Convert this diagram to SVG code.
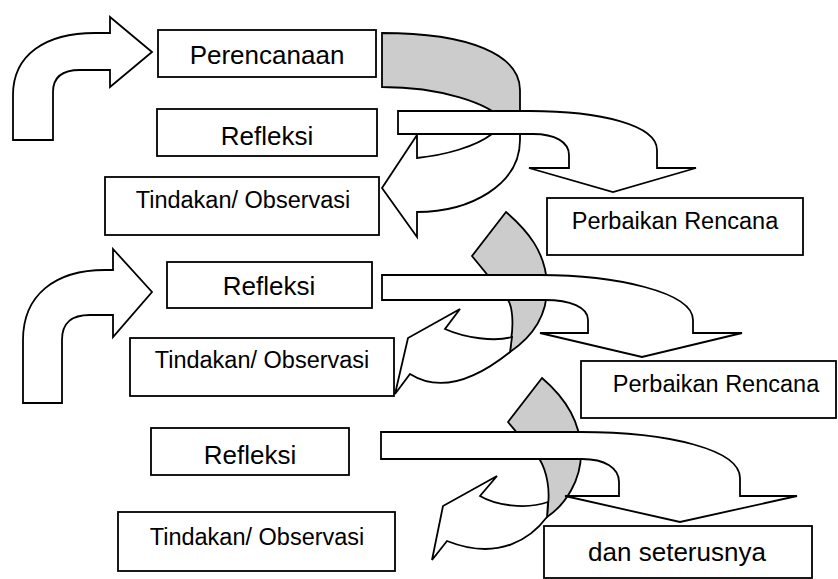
<svg xmlns="http://www.w3.org/2000/svg" width="838" height="579" viewBox="0 0 838 579">
<style>
.box{fill:#fff;stroke:#000;stroke-width:1.8}
.arw{fill:#fff;stroke:#000;stroke-width:1.8;stroke-linejoin:miter}
.back{fill:#cccccc;stroke:#000;stroke-width:1.8}
text{font-family:"Liberation Sans",Arial,sans-serif;fill:#000;text-anchor:middle}
.big{font-size:26px}
.small{font-size:23.5px}
</style>
<rect width="838" height="579" fill="#fff"/>
<g id="connectors">
  <path class="arw" d="M13,140 L13,95 C13,55 45,33 95,33 L110,33 L110,17 L152,52 L110,87 L110,70 L80,70 C62,70 53,78 53,92 L53,140 Z"/>
  <path class="arw" d="M23,403 L23,340 C23,295 55,270 105,270 L113,270 L113,249 L152,292 L113,337 L113,315 L90,315 C72,315 62,322 62,340 L62,403 Z"/>
  <path class="back" d="M382,33 C470,33 520,55 520,90 L520,125 L505,122 C490,103 440,87 382,87 Z"/>
  <path class="arw" d="M492,134 L505,120 L520,120 L520,140 C520,185 470,212 417,212 L417,237 L382,188 L417,135 L417,158 C445,155 475,147 492,134 Z"/>
  <path class="arw" d="M398,111 L530,111 C600,111 657,125 657,150 L657,168 L696,168 L613,192 L529,168 L569,168 L569,155 C569,142 555,134 533,134 L398,134 Z"/>
  <path class="back" d="M506,212 C527,230 546,252 547,285 C548,315 532,337 510,352 L511,340 C514,322 512,306 508,300 L472,256 Z"/>
  <path class="arw" d="M445,329 C465,338 495,342 512,337 L510,352 C490,368 448,398 410,374 L395,394 L408,338 L460,309 Z"/>
  <path class="arw" d="M382,275 L540,275 C615,275 693,292 693,320 L693,333 L742,333 L642,357 L540,333 L588,333 L588,320 C588,307 570,300 545,300 L382,300 Z"/>
  <path class="back" d="M542,378 C562,395 580,418 581,450 C582,480 565,505 547,517 L548,505 C550,490 547,472 540,460 L508,422 Z"/>
  <path class="arw" d="M480,496 C495,505 525,510 548,502 L547,517 C532,537 500,562 447,541 L432,560 L443,506 L497,476 Z"/>
  <path class="arw" d="M381,432 L580,432 C670,432 740,450 740,478 L740,496 L797,496 L680,522 L565,496 L619,496 L619,482 C619,468 605,459 582,459 L381,459 Z"/>
</g>
<g id="perencanaan"><rect class="box" x="158" y="30" width="218" height="47"/><text class="big" x="267" y="64">Perencanaan</text></g>
<g id="refleksi1"><rect class="box" x="157" y="109" width="220" height="47"/><text class="big" x="267" y="145">Refleksi</text></g>
<g id="tindakan1"><rect class="box" x="105" y="177" width="274" height="58"/><text class="small" x="243" y="208">Tindakan/ Observasi</text></g>
<g id="perbaikan1"><rect class="box" x="547" y="198" width="256" height="57"/><text class="small" x="675" y="229">Perbaikan Rencana</text></g>
<g id="refleksi2"><rect class="box" x="167" y="262" width="205" height="46"/><text class="big" x="269" y="295">Refleksi</text></g>
<g id="tindakan2"><rect class="box" x="130" y="338" width="264" height="58"/><text class="small" x="262" y="368">Tindakan/ Observasi</text></g>
<g id="perbaikan2"><rect class="box" x="581" y="361" width="255" height="57"/><text class="small" x="716" y="392">Perbaikan Rencana</text></g>
<g id="refleksi3"><rect class="box" x="151" y="428" width="198" height="47"/><text class="big" x="250" y="464">Refleksi</text></g>
<g id="tindakan3"><rect class="box" x="118" y="512" width="277" height="59"/><text class="small" x="257" y="545">Tindakan/ Observasi</text></g>
<g id="dan-seterusnya"><rect class="box" x="544" y="526" width="268" height="52"/><text class="big" x="677" y="561">dan seterusnya</text></g>
</svg>
